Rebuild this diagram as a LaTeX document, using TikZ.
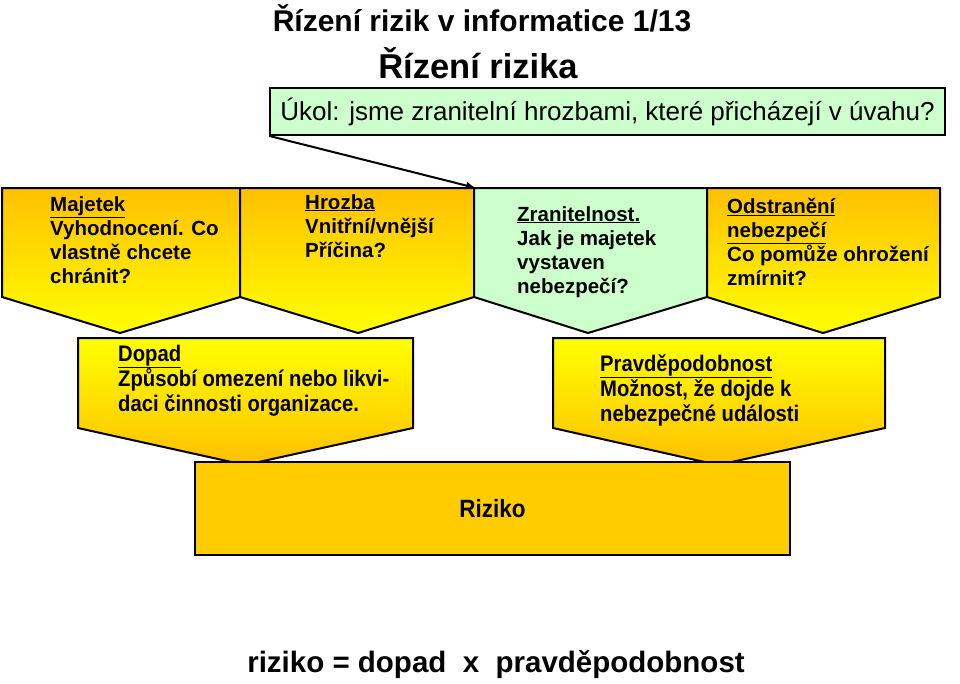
\documentclass[tikz,border=0pt]{standalone}
\usepackage{fontspec}
\setmainfont{Liberation Sans}
\usetikzlibrary{arrows.meta}
\definecolor{org}{HTML}{FFC000}
\definecolor{yel}{HTML}{FFFF00}
\definecolor{grn}{HTML}{CCFFCC}
\definecolor{rz}{HTML}{FFCC00}
\tikzset{
  pent/.style={draw=black, line width=2pt, line join=miter},
  topshade/.style={pent, top color=org, bottom color=yel},
  botshade/.style={pent, top color=yel, bottom color=org},
  txt/.style={anchor=north west, align=left, inner sep=0pt, font=\bfseries\fontsize{20.5}{24}\selectfont},
  ntxt/.style={anchor=north west, align=left, inner sep=0pt, font=\bfseries\addfontfeature{FakeStretch=0.9}\fontsize{22.5}{25}\selectfont},
}
\begin{document}
\begin{tikzpicture}[x=1pt,y=-1pt]
\useasboundingbox (0,0) rectangle (960,683);
\node[font=\bfseries\fontsize{30}{34}\selectfont] (t1) at (482,18) {Řízení rizik v informatice 1/13};
\node[font=\bfseries\fontsize{34.5}{38}\selectfont] (t2) at (478,63) {Řízení rizika};
\node[draw, line width=1.8pt, fill=grn, minimum width=675pt, minimum height=47pt, inner sep=0pt, font=\fontsize{26}{30}\selectfont] (ukol) at (607.5,111.5) {Úkol: jsme zranitelní hrozbami, které přicházejí v úvahu?};
% top pentagons
\path[topshade] (2,188) -- (240,188) -- (240,297) -- (120,333) -- (2,297) -- cycle;
\path[topshade] (240,188) -- (474,188) -- (474,297) -- (358,333) -- (240,297) -- cycle;
\path[pent, fill=grn] (474,188) -- (707,188) -- (707,297) -- (588,333) -- (474,297) -- cycle;
\path[topshade] (707,188) -- (940,188) -- (940,297) -- (823,333) -- (707,297) -- cycle;
\coordinate (b3) at (476,188);
\draw[line width=2pt, -{Latex[length=10pt,width=8pt]}] (ukol.south west) -- (b3);
\node[txt] (m1) at (50,196) {\underline{Majetek}\\Vyhodnocení. Co\\vlastně chcete\\chránit?};
\node[txt] (m2) at (305,194) {\underline{Hrozba}\\Vnitřní/vnější\\Příčina?};
\node[txt] (m3) at (517,206) {\underline{Zranitelnost.}\\Jak je majetek\\vystaven\\nebezpečí?};
\node[txt] (m4) at (727,198) {\underline{Odstranění}\\\underline{nebezpečí}\\Co pomůže ohrožení\\zmírnit?};
% lower
\path[botshade] (78,338) -- (413,338) -- (413,428) -- (245,465) -- (78,428) -- cycle;
\path[botshade] (553,338) -- (885,338) -- (885,428) -- (718,465) -- (553,428) -- cycle;
\node[ntxt] (d) at (118,345) {\underline{Dopad}\\Způsobí omezení nebo likvi-\\daci činnosti organizace.};
\node[ntxt] (p) at (600,354) {\underline{Pravděpodobnost}\\Možnost, že dojde k\\nebezpečné události};
\node[draw, line width=2pt, fill=rz, minimum width=595pt, minimum height=93pt, inner sep=0pt, font=\bfseries\addfontfeature{FakeStretch=0.9}\fontsize{25}{28}\selectfont] (r) at (492.5,508.5) {Riziko};
\node[font=\bfseries\fontsize{29.5}{33}\selectfont] (f) at (496,665) {riziko = dopad\ \ x\ \ pravděpodobnost};
\end{tikzpicture}
\end{document}
